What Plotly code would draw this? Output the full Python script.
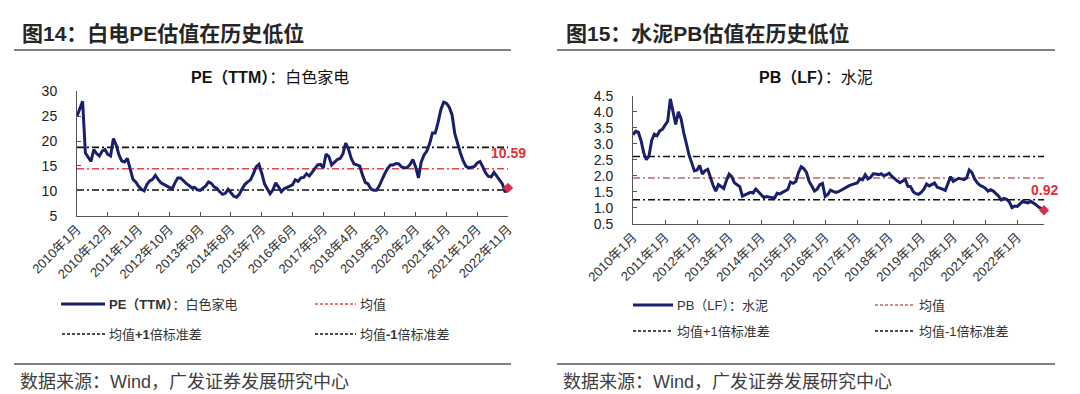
import plotly.graph_objects as go

W, H = 1080, 394

# ---------------- data ----------------
months = [f"{y}年{m}月" for y in range(2010, 2023) for m in range(1, 13)][:155]

pe_values = [
    25.0, 26.6, 28.0, 17.6, 16.6, 15.9, 18.3, 17.5, 17.0, 18.0,
    18.3, 17.3, 17.0, 20.5, 19.2, 17.2, 16.0, 15.8, 16.5, 14.2,
    12.3, 11.8, 10.9, 10.3, 10.0, 11.3, 12.0, 12.3, 13.1, 12.3,
    11.6, 11.3, 11.0, 10.6, 10.4, 11.6, 12.6, 12.6, 12.0, 11.5,
    11.1, 10.6, 10.7, 10.2, 10.1, 10.5, 11.0, 11.8, 11.5, 10.8,
    10.5, 9.8, 9.3, 9.5, 10.3, 9.6, 8.9, 8.7, 9.3, 10.4,
    11.3, 11.8, 12.2, 13.4, 14.8, 15.3, 13.6, 11.4, 10.3, 9.4,
    10.2, 11.6, 10.8, 9.8, 10.4, 10.7, 10.9, 11.2, 12.2, 11.9,
    12.6, 12.7, 13.4, 13.0, 13.7, 14.5, 15.2, 15.3, 14.6, 17.4,
    16.9, 15.2, 15.8, 16.3, 16.5, 17.4, 19.6, 18.4, 16.5, 15.4,
    15.2, 15.0, 13.2, 11.7, 11.4, 10.4, 10.1, 10.1, 11.0, 12.3,
    13.5, 14.5, 15.2, 15.2, 15.5, 15.4, 14.8, 14.6, 14.7, 15.3,
    16.3, 14.8, 12.6, 15.8, 17.2, 18.0, 19.5, 21.6, 21.6, 23.7,
    26.3, 27.8, 27.6, 26.8, 25.3, 21.5, 19.3, 17.6, 16.0, 14.9,
    14.6, 14.8, 14.9, 15.6, 15.9, 14.8, 13.6, 12.9, 12.8, 13.7,
    12.9, 12.2, 11.4, 9.7, 10.59,
]

pb_values = [
    3.28, 3.39, 3.36, 3.10, 2.72, 2.50, 2.62, 3.10, 3.30, 3.25,
    3.40, 3.45, 3.58, 3.70, 4.40, 4.05, 3.60, 4.00, 3.78, 3.35,
    2.95, 2.65, 2.40, 2.15, 2.18, 2.32, 2.05, 2.16, 2.20, 1.92,
    1.70, 1.52, 1.72, 1.66, 1.60, 1.85, 2.05, 1.97, 1.78, 1.72,
    1.66, 1.36, 1.40, 1.46, 1.48, 1.46, 1.58, 1.50, 1.42, 1.32,
    1.35, 1.34, 1.33, 1.30, 1.45, 1.43, 1.48, 1.52, 1.57, 1.80,
    1.76, 1.82, 2.10, 2.28, 2.22, 2.10, 1.82, 1.68, 1.52, 1.58,
    1.72, 1.76, 1.35, 1.41, 1.55, 1.51, 1.48, 1.50, 1.55, 1.61,
    1.65, 1.69, 1.72, 1.74, 1.77, 1.90, 1.87, 2.03, 1.90, 1.95,
    2.06, 2.05, 2.03, 2.06, 2.00, 2.03, 2.08, 1.98, 1.90, 1.84,
    1.78, 1.82, 1.88, 1.67, 1.66, 1.50, 1.44, 1.42, 1.48, 1.58,
    1.74, 1.68, 1.72, 1.77, 1.64, 1.62, 1.58, 1.54, 1.74, 1.97,
    1.82, 1.86, 1.92, 1.90, 1.88, 1.93, 2.18, 2.10, 1.90, 1.78,
    1.70, 1.66, 1.61, 1.52, 1.56, 1.52, 1.45, 1.36, 1.24, 1.29,
    1.26, 1.18, 1.00, 1.05, 1.04, 1.12, 1.20, 1.17, 1.15, 1.20,
    1.15, 1.09, 1.02, 0.96, 0.92,
]

pe_mean, pe_upper, pe_lower = 14.45, 18.74, 10.16
pb_mean, pb_upper, pb_lower = 1.93, 2.60, 1.25

pe_ticks = ["2010年1月", "2010年12月", "2011年11月", "2012年10月", "2013年9月",
            "2014年8月", "2015年7月", "2016年6月", "2017年5月", "2018年4月",
            "2019年3月", "2020年2月", "2021年1月", "2021年12月", "2022年11月"]
pb_ticks = ["2010年1月", "2011年1月", "2012年1月", "2013年1月", "2014年1月",
            "2015年1月", "2016年1月", "2017年1月", "2018年1月", "2019年1月",
            "2020年1月", "2021年1月", "2022年1月"]

pe_yticks = [5, 10, 15, 20, 25, 30]
pb_yticks = [0.5, 1.0, 1.5, 2.0, 2.5, 3.0, 3.5, 4.0, 4.5]

# ---------------- styles ----------------
FONT = "Liberation Sans, Arial, Noto Sans CJK SC, sans-serif"
NAVY = "#1b1f6b"
RED_L = "#e04848"
RED_R = "#c06464"
BLACK = "#111111"
DASHDOT = "7px,3px,2px,3px"
LABEL_RED = "#e0313a"
MARK_RED = "#d8314f"


def X(px):
    return px / W


def Y(py):
    return 1 - py / H


fig = go.Figure()

# left panel traces
for val, col in [(pe_upper, BLACK), (pe_mean, RED_L), (pe_lower, BLACK)]:
    fig.add_trace(go.Scatter(x=[months[0], months[-1]], y=[val, val], mode="lines",
                             line=dict(color=col, width=1.6, dash=DASHDOT),
                             xaxis="x", yaxis="y", showlegend=False, hoverinfo="skip"))
fig.add_trace(go.Scatter(x=months, y=pe_values, mode="lines",
                         line=dict(color=NAVY, width=3), xaxis="x", yaxis="y",
                         showlegend=False))
fig.add_trace(go.Scatter(x=[months[-1]], y=[pe_values[-1]], mode="markers",
                         marker=dict(symbol="diamond", size=8, color=MARK_RED),
                         xaxis="x", yaxis="y", showlegend=False, cliponaxis=False))

# right panel traces
for val, col in [(pb_upper, BLACK), (pb_mean, RED_R), (pb_lower, BLACK)]:
    fig.add_trace(go.Scatter(x=[months[0], months[-1]], y=[val, val], mode="lines",
                             line=dict(color=col, width=1.6, dash=DASHDOT),
                             xaxis="x2", yaxis="y2", showlegend=False, hoverinfo="skip"))
fig.add_trace(go.Scatter(x=months, y=pb_values, mode="lines",
                         line=dict(color=NAVY, width=3), xaxis="x2", yaxis="y2",
                         showlegend=False))
fig.add_trace(go.Scatter(x=[months[-1]], y=[pb_values[-1]], mode="markers",
                         marker=dict(symbol="diamond", size=8, color=MARK_RED),
                         xaxis="x2", yaxis="y2", showlegend=False, cliponaxis=False))

axis_common = dict(showgrid=False, zeroline=False, showline=True, linecolor="#555555",
                   linewidth=1, ticks="inside", ticklen=4, tickcolor="#555555",
                   automargin=False,
                   tickfont=dict(family=FONT, size=14, color="#222222"))
xtickfont = dict(family=FONT, size=13, color="#333333")

fig.update_layout(
    template="none",
    width=W, height=H, autosize=False,
    margin=dict(l=0, r=0, t=0, b=0, pad=0),
    paper_bgcolor="white", plot_bgcolor="white",
    font=dict(family=FONT, color="#222222"),
    xaxis=dict(domain=[X(69), X(500)], type="category", categoryorder="array",
               categoryarray=months, range=[0, 154], tickmode="array",
               tickvals=pe_ticks, ticktext=pe_ticks, tickangle=-45,
               anchor="y", **{**axis_common, "tickfont": xtickfont}),
    yaxis=dict(domain=[Y(207.7), Y(83.3)], range=[5, 30], tickmode="array",
               tickvals=pe_yticks, anchor="x", ticklabelstandoff=16, **axis_common),
    xaxis2=dict(domain=[X(625), X(1036)], type="category", categoryorder="array",
                categoryarray=months, range=[0, 154], tickmode="array",
                tickvals=pb_ticks, ticktext=pb_ticks, tickangle=-45,
                anchor="y2", **{**axis_common, "tickfont": xtickfont}),
    yaxis2=dict(domain=[Y(215.7), Y(87.7)], range=[0.5, 4.5], tickmode="array",
                tickvals=pb_yticks, tickformat=".1f", anchor="x2",
                ticklabelstandoff=16, **axis_common),
)

shapes = []
annos = []

# header / footer rules
for x0, x1 in [(6, 503), (549, 1047)]:
    for py in (42, 356):
        shapes.append(dict(type="line", xref="paper", yref="paper",
                           x0=X(x0), x1=X(x1), y0=Y(py), y1=Y(py),
                           line=dict(color="#808080", width=2)))

# headings
annos.append(dict(x=X(12), y=Y(25), xref="paper", yref="paper", xanchor="left", yanchor="middle",
                  showarrow=False, text="<b>图14：白电PE估值在历史低位</b>",
                  font=dict(family=FONT, size=21, color="#262626")))
annos.append(dict(x=X(556), y=Y(25), xref="paper", yref="paper", xanchor="left", yanchor="middle",
                  showarrow=False, text="<b>图15：水泥PB估值在历史低位</b>",
                  font=dict(family=FONT, size=21, color="#262626")))

# chart titles
annos.append(dict(x=X(262), y=Y(69), xref="paper", yref="paper", xanchor="center", yanchor="middle",
                  showarrow=False, text="<b>PE（TTM）</b>：白色家电",
                  font=dict(family=FONT, size=16, color="#111111")))
annos.append(dict(x=X(808), y=Y(69), xref="paper", yref="paper", xanchor="center", yanchor="middle",
                  showarrow=False, text="<b>PB（LF）</b>：水泥",
                  font=dict(family=FONT, size=16, color="#111111")))

# end labels
annos.append(dict(x=months[-1], y=pe_values[-1], xref="x", yref="y", showarrow=False,
                  text=f"<b>{pe_values[-1]:.2f}</b>", yshift=35,
                  font=dict(family=FONT, size=14, color=LABEL_RED)))
annos.append(dict(x=months[-1], y=pb_values[-1], xref="x2", yref="y2", showarrow=False,
                  text=f"<b>{pb_values[-1]:.2f}</b>", yshift=20,
                  font=dict(family=FONT, size=14, color=LABEL_RED)))

# legends (manual, 2x2 grid)
def legend_item(x0, x1, py, color, width, dash, text):
    shapes.append(dict(type="line", xref="paper", yref="paper", x0=X(x0), x1=X(x1),
                       y0=Y(py), y1=Y(py), line=dict(color=color, width=width, dash=dash)))
    annos.append(dict(x=X(x1 + 2), y=Y(py), xref="paper", yref="paper", xanchor="left",
                      yanchor="middle", showarrow=False, text=text,
                      font=dict(family=FONT, size=13, color="#333333")))

legend_item(53, 97, 296, NAVY, 3, "solid", "<b>PE（TTM）</b>：白色家电")
legend_item(307, 348, 296, RED_L, 1.3, "3px,2px", "均值")
legend_item(54, 97, 326, BLACK, 1.3, "3px,2px", "均值<b>+1</b>倍标准差")
legend_item(307, 348, 326, BLACK, 1.3, "3px,2px", "均值<b>-1</b>倍标准差")

legend_item(625, 665, 297, NAVY, 3, "solid", "PB（LF）：水泥")
legend_item(867, 907, 297, RED_R, 1.3, "3px,2px", "均值")
legend_item(625, 665, 323, BLACK, 1.3, "3px,2px", "均值+1倍标准差")
legend_item(867, 907, 323, BLACK, 1.3, "3px,2px", "均值-1倍标准差")

# sources
for px in (10, 553):
    annos.append(dict(x=X(px), y=Y(374), xref="paper", yref="paper", xanchor="left",
                      yanchor="middle", showarrow=False, text="数据来源：Wind，广发证券发展研究中心",
                      font=dict(family=FONT, size=18, color="#404040")))

fig.update_layout(shapes=shapes, annotations=annos)
fig.write_html("out.html")
